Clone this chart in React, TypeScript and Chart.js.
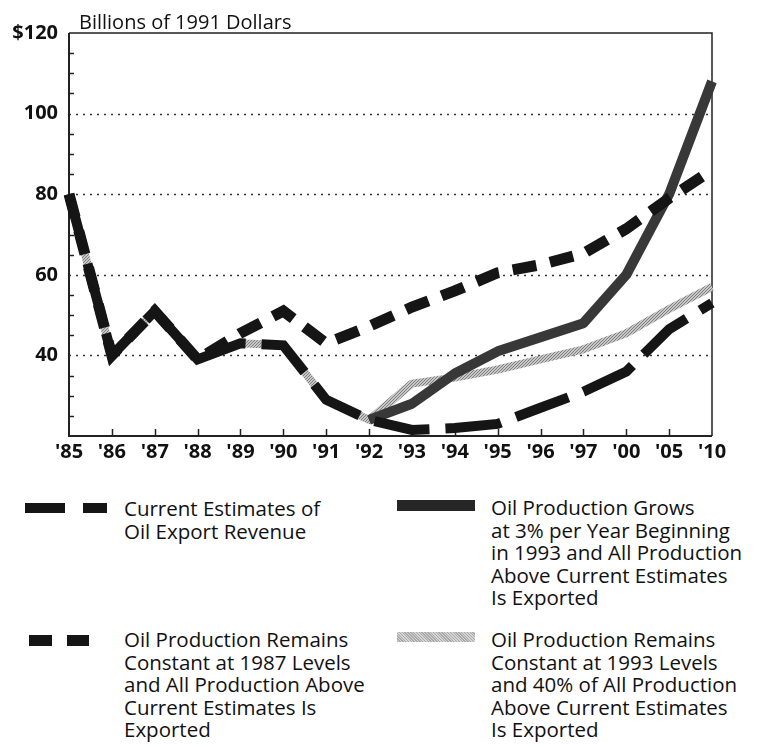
import React, { useEffect, useRef } from "react";
import { Chart, registerables } from "chart.js";

Chart.register(...registerables);

const years = ["'85", "'86", "'87", "'88", "'89", "'90", "'91", "'92", "'93", "'94", "'95", "'96", "'97", "'00", "'05", "'10"];
const currentEstimates = [80, 40, 51, 39, 43, 42.5, 29, 24, 21.5, 22, 23, 27, 31, 36, 46.5, 53];
const constant1987 = [80, 40, 51, 39, 45.5, 51, 43, 47.2, 52, 56, 60.5, 62.5, 65.3, 71.4, 79, 86];
const grows3pct = [null, null, null, null, null, null, null, 24, 28, 35.5, 41, 44.5, 48, 60, 80, 108];
const constant1993 = [80, 40, 51, 39, 43, 42.5, 29, 24, 33, 34.5, 36.5, 39, 41.5, 45.5, 51.5, 57];
const yGridValues = [40, 60, 80, 100];
const yMinorTicks = [25, 30, 35, 45, 50, 55, 65, 70, 75, 85, 90, 95, 105, 110, 115];

const FONT = "'Open Sans', Lato, sans-serif";

function makePattern(): CanvasPattern | string {
  const pc = document.createElement("canvas");
  pc.width = 3;
  pc.height = 3;
  const c = pc.getContext("2d");
  if (!c) return "#b0b0b0";
  c.fillStyle = "#c6c6c6";
  c.fillRect(0, 0, 3, 3);
  c.fillStyle = "#808080";
  c.fillRect(0, 0, 1, 1);
  c.fillRect(2, 1, 1, 1);
  c.fillRect(1, 2, 1, 1);
  const p = c.createPattern(pc, "repeat");
  return p || "#b0b0b0";
}

const decorPlugin = {
  id: "decor",
  beforeDatasetsDraw(chart: any) {
    const { ctx, chartArea } = chart;
    const y = chart.scales.y;
    const x = chart.scales.x;
    ctx.save();
    ctx.strokeStyle = "#333";
    ctx.lineWidth = 1.5;
    ctx.setLineDash([2, 5]);
    yGridValues.forEach((v) => {
      const py = Math.round(y.getPixelForValue(v)) + 0.5;
      ctx.beginPath();
      ctx.moveTo(chartArea.left, py);
      ctx.lineTo(chartArea.right, py);
      ctx.stroke();
    });
    ctx.setLineDash([]);
    ctx.strokeStyle = "#222";
    ctx.lineWidth = 1.5;
    ctx.beginPath();
    ctx.moveTo(chartArea.left, chartArea.top);
    ctx.lineTo(chartArea.right, chartArea.top);
    ctx.lineTo(chartArea.right, chartArea.bottom);
    ctx.stroke();
    ctx.lineWidth = 2;
    ctx.beginPath();
    ctx.moveTo(chartArea.left, chartArea.top);
    ctx.lineTo(chartArea.left, chartArea.bottom);
    ctx.lineTo(chartArea.right, chartArea.bottom);
    ctx.stroke();
    ctx.lineWidth = 1.5;
    yMinorTicks.forEach((v) => {
      const py = Math.round(y.getPixelForValue(v)) + 0.5;
      ctx.beginPath();
      ctx.moveTo(chartArea.left, py);
      ctx.lineTo(chartArea.left + 5, py);
      ctx.stroke();
    });
    years.forEach((_, i) => {
      if (i === 0 || i === years.length - 1) return;
      const px = Math.round(x.getPixelForValue(i)) + 0.5;
      ctx.beginPath();
      ctx.moveTo(px, chartArea.bottom);
      ctx.lineTo(px, chartArea.bottom - 7);
      ctx.stroke();
    });
    ctx.restore();
  },
  afterDraw(chart: any) {
    const { ctx, chartArea } = chart;
    ctx.save();
    ctx.fillStyle = "#111";
    ctx.font = `20px ${FONT}`;
    ctx.textBaseline = "alphabetic";
    ctx.textAlign = "left";
    ctx.fillText("Billions of 1991 Dollars", chartArea.left + 10, chartArea.top - 4);
    ctx.restore();
  },
};

const legendText: React.CSSProperties = {
  position: "absolute",
  fontFamily: FONT,
  fontSize: 20.5,
  lineHeight: "22.5px",
  color: "#111",
  whiteSpace: "nowrap",
};

export default function App() {
  const ref = useRef<HTMLCanvasElement | null>(null);
  useEffect(() => {
    if (!ref.current) return;
    const pattern = makePattern();
    const chart = new Chart(ref.current, {
      type: "line",
      data: {
        labels: years,
        datasets: [
          {
            label: "Current Estimates of Oil Export Revenue",
            data: currentEstimates,
            borderColor: "#151515",
            borderWidth: 10,
            borderDash: [56, 16],
            borderCapStyle: "butt",
            borderJoinStyle: "miter",
            pointRadius: 0,
            tension: 0,
            order: 0,
          },
          {
            label: "Oil Production Remains Constant at 1987 Levels and All Production Above Current Estimates Is Exported",
            data: constant1987,
            borderColor: "#151515",
            borderWidth: 11,
            borderDash: [24, 14],
            borderCapStyle: "butt",
            borderJoinStyle: "miter",
            pointRadius: 0,
            tension: 0,
            order: 1,
          },
          {
            label: "Oil Production Grows at 3% per Year Beginning in 1993 and All Production Above Current Estimates Is Exported",
            data: grows3pct,
            borderColor: "#383838",
            borderWidth: 10,
            borderJoinStyle: "round",
            pointRadius: 0,
            tension: 0,
            spanGaps: false,
            order: 2,
          },
          {
            label: "Oil Production Remains Constant at 1993 Levels and 40% of All Production Above Current Estimates Is Exported",
            data: constant1993,
            borderColor: pattern as any,
            borderWidth: 8,
            borderJoinStyle: "round",
            pointRadius: 0,
            tension: 0,
            order: 3,
          },
        ],
      },
      options: {
        responsive: false,
        animation: false,
        events: [],
        layout: { padding: { left: 0, right: 48, top: 33, bottom: 0 } },
        plugins: { legend: { display: false }, tooltip: { enabled: false } },
        scales: {
          x: {
            type: "category",
            offset: false,
            grid: { display: false },
            border: { display: false },
            ticks: {
              color: "#111",
              font: { family: FONT, size: 20, weight: "bold" },
              padding: -4,
              maxRotation: 0,
              autoSkip: false,
            },
            afterFit: (s: any) => {
              s.height = 34;
            },
          },
          y: {
            min: 20,
            max: 120,
            grid: { display: false },
            border: { display: false },
            ticks: {
              stepSize: 20,
              color: "#111",
              font: { family: FONT, size: 20, weight: "bold" },
              padding: 3,
              callback: (v: any) => (v === 120 ? "$120" : v === 20 ? "" : String(v)),
            },
            afterFit: (s: any) => {
              s.width = 69;
            },
          },
        },
      },
      plugins: [decorPlugin],
    });
    return () => chart.destroy();
  }, []);

  const black = "#151515";
  return (
    <div style={{ position: "absolute", left: 0, top: 0, width: 760, height: 747, background: "#fff" }}>
      <canvas ref={ref} width={760} height={470} style={{ display: "block" }} />
      <div style={{ position: "absolute", left: 25, top: 503, width: 40, height: 10, background: black }} />
      <div style={{ position: "absolute", left: 83, top: 503, width: 24, height: 10, background: black }} />
      <div style={{ position: "absolute", left: 29, top: 635, width: 23, height: 11, background: black }} />
      <div style={{ position: "absolute", left: 67, top: 635, width: 22, height: 11, background: black }} />
      <div style={{ position: "absolute", left: 397, top: 500, width: 78, height: 11, background: "#262626" }} />
      <div
        style={{
          position: "absolute",
          left: 397,
          top: 632,
          width: 78,
          height: 10,
          background:
            "repeating-linear-gradient(45deg, #aaaaaa 0px, #aaaaaa 1px, #d4d4d4 1px, #d4d4d4 2px)",
        }}
      />
      <div style={{ ...legendText, left: 124, top: 497 }}>
        Current Estimates of
        <br />
        Oil Export Revenue
      </div>
      <div style={{ ...legendText, left: 124, top: 628 }}>
        Oil Production Remains
        <br />
        Constant at 1987 Levels
        <br />
        and All Production Above
        <br />
        Current Estimates Is
        <br />
        Exported
      </div>
      <div style={{ ...legendText, left: 491, top: 496 }}>
        Oil Production Grows
        <br />
        at 3% per Year Beginning
        <br />
        in 1993 and All Production
        <br />
        Above Current Estimates
        <br />
        Is Exported
      </div>
      <div style={{ ...legendText, left: 491, top: 628 }}>
        Oil Production Remains
        <br />
        Constant at 1993 Levels
        <br />
        and 40% of All Production
        <br />
        Above Current Estimates
        <br />
        Is Exported
      </div>
    </div>
  );
}
